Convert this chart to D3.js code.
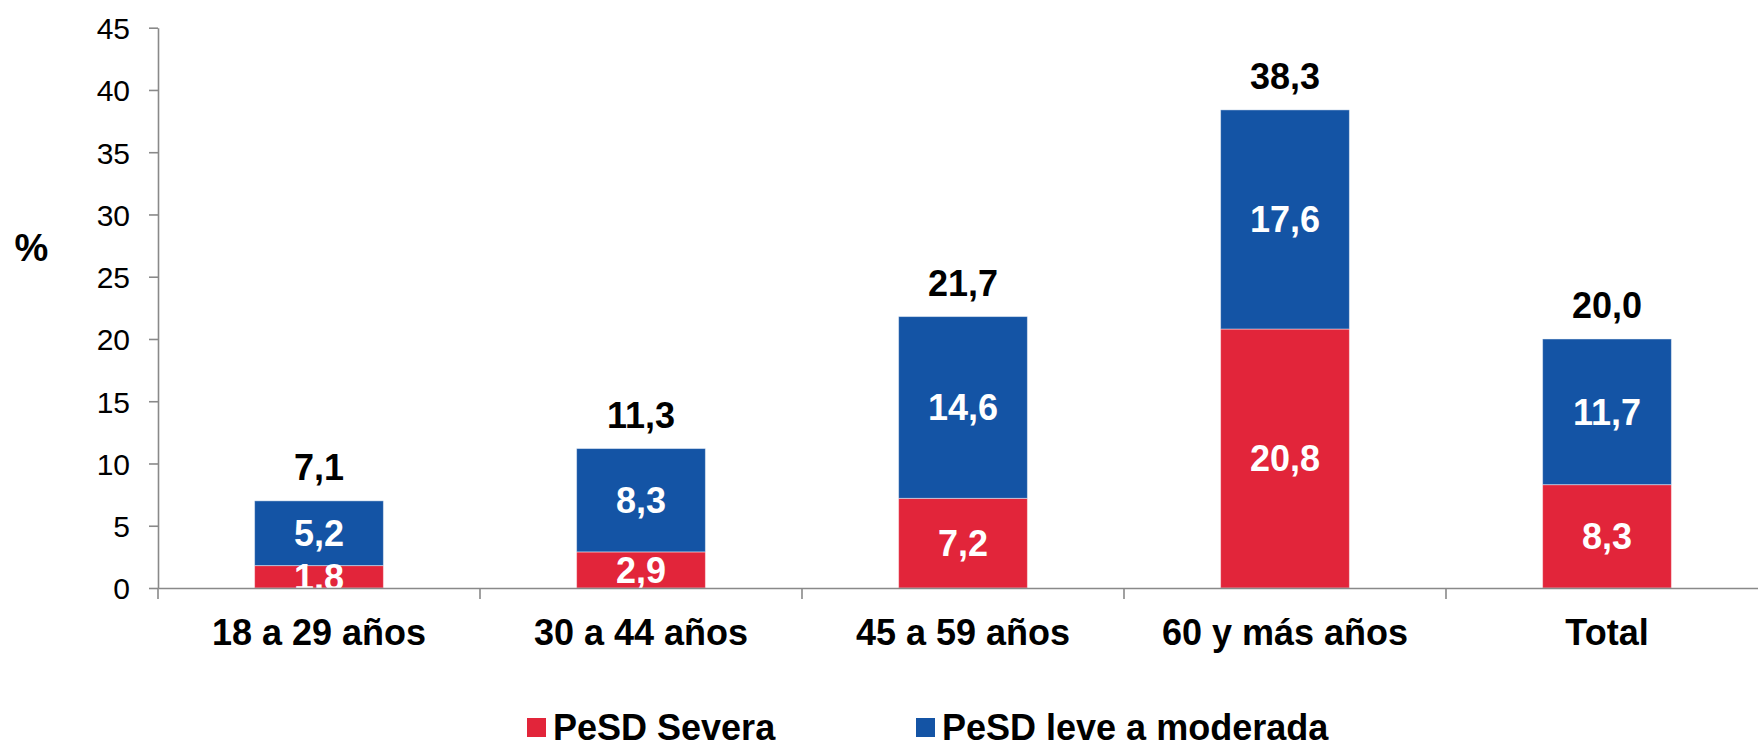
<!DOCTYPE html>
<html>
<head>
<meta charset="utf-8">
<script src="https://cdn.jsdelivr.net/npm/d3@7"></script>
<style>
  body { margin: 0; background: #fff; }
  svg text { font-family: "Liberation Sans", Arial, sans-serif; }
</style>
</head>
<body>
<div id="chart"></div>
<script>
// stacked bars: PeSD por grupo de edad
const categories = ["18 a 29 años", "30 a 44 años", "45 a 59 años", "60 y más años", "Total"];
const severa = [1.8, 2.9, 7.2, 20.8, 8.3];
const leve = [5.2, 8.3, 14.6, 17.6, 11.7];
const totals = [7.1, 11.3, 21.7, 38.3, 20.0];
const yTicks = [0, 5, 10, 15, 20, 25, 30, 35, 40, 45];
const seriesNames = ["PeSD Severa", "PeSD leve a moderada"];
const colors = ["#E2253A", "#1454A5"];

const width = 1758, height = 748;
const axisColor = "#898989";

const svg = d3.select("#chart").append("svg")
    .attr("width", width)
    .attr("height", height);

const x = d3.scaleBand()
    .domain(categories)
    .range([158, 1768])
    .paddingInner(0.6)
    .paddingOuter(0.3);

const y = d3.scaleLinear()
    .domain([0, 45])
    .range([588, 27.7]);

const fmt = v => d3.format(".1f")(v).replace(".", ",");

// stack the two series
const rows = categories.map((c, i) => ({ cat: c, severa: severa[i], leve: leve[i] }));
const stacked = d3.stack().keys(["severa", "leve"])(rows);

// clip so labels don't spill under the axis
svg.append("defs").append("clipPath").attr("id", "plot")
    .append("rect").attr("x", 158).attr("y", 0).attr("width", 1610).attr("height", y(0));

const layers = svg.selectAll("g.layer")
    .data(stacked)
    .join("g")
    .attr("class", "layer")
    .attr("fill", (d, i) => colors[i]);

layers.selectAll("rect")
    .data(d => d)
    .join("rect")
    .attr("x", d => x(d.data.cat))
    .attr("width", x.bandwidth())
    .attr("y", d => y(d[1]))
    .attr("height", d => y(d[0]) - y(d[1]))
    .attr("stroke", "rgba(255,255,255,0.45)")
    .attr("stroke-width", 1);

// values inside segments
const inner = svg.append("g").attr("clip-path", "url(#plot)");
stacked.forEach(layer => {
    inner.selectAll(null)
        .data(layer)
        .join("text")
        .attr("x", d => x(d.data.cat) + x.bandwidth() / 2)
        .attr("y", d => (y(d[0]) + y(d[1])) / 2)
        .attr("dy", "0.36em")
        .attr("text-anchor", "middle")
        .attr("fill", "#fff")
        .attr("font-weight", "bold")
        .attr("font-size", 36)
        .text(d => fmt(d[1] - d[0]));
});

// totals above bars
svg.append("g").selectAll("text")
    .data(categories)
    .join("text")
    .attr("x", c => x(c) + x.bandwidth() / 2)
    .attr("y", (c, i) => y(d3.max(stacked, l => l[i][1])) - 21)
    .attr("text-anchor", "middle")
    .attr("fill", "#000")
    .attr("font-weight", "bold")
    .attr("font-size", 36)
    .text((c, i) => fmt(totals[i]));

// y axis
const yAxis = svg.append("g")
    .attr("transform", "translate(158,0)")
    .call(d3.axisLeft(y).tickValues(yTicks).tickSize(9).tickPadding(19).tickSizeOuter(0));
yAxis.selectAll("line, path").attr("stroke", axisColor).attr("stroke-width", 1.6);
yAxis.selectAll("text")
    .attr("font-size", 30)
    .attr("fill", "#000")
    .attr("dy", "0.36em");

// x axis with category labels
const xAxis = svg.append("g")
    .attr("transform", `translate(0,${y(0)})`)
    .call(d3.axisBottom(x).tickSize(0).tickPadding(31).tickSizeOuter(0));
xAxis.select(".domain").attr("stroke", axisColor).attr("stroke-width", 1.6);
xAxis.selectAll("text")
    .attr("font-size", 36)
    .attr("font-weight", "bold")
    .attr("fill", "#000");

// tick marks at band boundaries
const gap = x.step() - x.bandwidth();
const bounds = [158].concat(categories.map(c => x(c) + x.bandwidth() + gap / 2));
svg.append("g").selectAll("line")
    .data(bounds)
    .join("line")
    .attr("x1", d => d).attr("x2", d => d)
    .attr("y1", y(0)).attr("y2", y(0) + 11)
    .attr("stroke", axisColor)
    .attr("stroke-width", 1.6);

// y title
svg.append("text")
    .attr("x", 31.5)
    .attr("y", 247)
    .attr("dy", "0.36em")
    .attr("text-anchor", "middle")
    .attr("font-weight", "bold")
    .attr("font-size", 38)
    .text("%");

// legend
const legendX = [527, 916];
const legend = svg.append("g").selectAll("g")
    .data(seriesNames)
    .join("g")
    .attr("transform", (d, i) => `translate(${legendX[i]},718)`);
legend.append("rect")
    .attr("width", 19).attr("height", 19)
    .attr("fill", (d, i) => colors[i]);
legend.append("text")
    .attr("x", 26)
    .attr("y", 21.5)
    .attr("font-weight", "bold")
    .attr("font-size", 36)
    .text(d => d);
</script>
</body>
</html>
